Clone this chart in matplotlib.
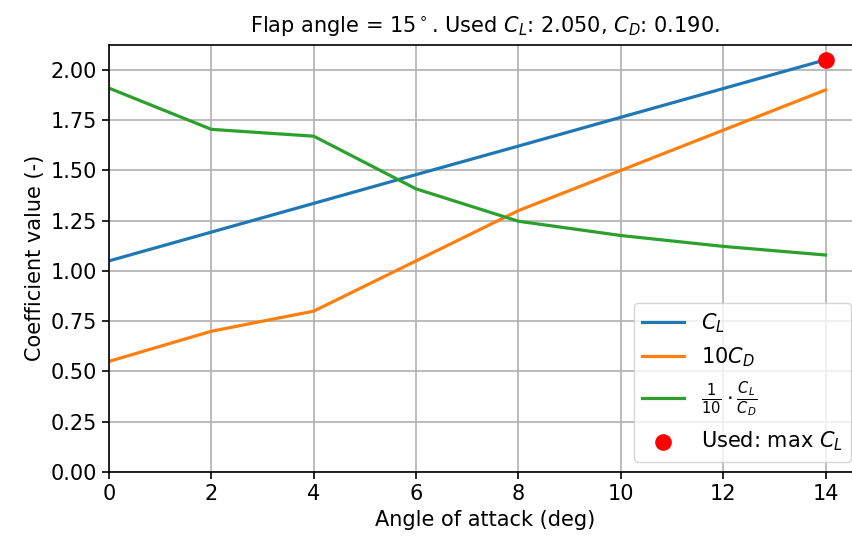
import matplotlib
matplotlib.use("Agg")
import matplotlib.pyplot as plt

# Polaire du profil avec volet braque a 15 deg
angles = [0, 2, 4, 6, 8, 10, 12, 14]
cl = [1.050, 1.193, 1.336, 1.479, 1.621, 1.764, 1.907, 2.050]
cd_x10 = [0.55, 0.70, 0.80, 1.05, 1.30, 1.50, 1.70, 1.90]
finesse_sur_10 = [1.909, 1.704, 1.670, 1.408, 1.247, 1.176, 1.122, 1.079]

angle_volet = 15
alpha_retenu = 14
cl_retenu = 2.050
cd_retenu = 0.190

plt.rcParams["font.size"] = 15
plt.rcParams["axes.linewidth"] = 1.2

fig = plt.figure(figsize=(8.52, 5.44), dpi=100)
ax = fig.add_axes([0.128, 0.1324, 0.883, 0.7854])

lw = 2.3
ax.plot(angles, cl, color="#1f77b4", linewidth=lw, label=r"$C_L$")
ax.plot(angles, cd_x10, color="#ff7f0e", linewidth=lw, label=r"$10C_D$")
ax.plot(angles, finesse_sur_10, color="#2ca02c", linewidth=lw,
        label=r"$\frac{1}{10}\cdot\frac{C_L}{C_D}$")
ax.scatter([alpha_retenu], [cl_retenu], color="red", s=120, zorder=3,
           label=r"Used: max $C_L$")

ax.set_xlim(0, 14.7)
ax.set_ylim(0, 2.125)
ax.set_xticks([0, 2, 4, 6, 8, 10, 12, 14])
ax.set_yticks([0, 0.25, 0.5, 0.75, 1.0, 1.25, 1.5, 1.75, 2.0])
ax.set_yticklabels(["0.00", "0.25", "0.50", "0.75", "1.00", "1.25", "1.50", "1.75", "2.00"])
ax.tick_params(width=1.2, length=5.25)
ax.grid(True, color="#b0b0b0", linewidth=1.2)
# le bord droit du cadre tombe hors de l'image
ax.spines["right"].set_visible(False)

ax.set_xlabel("Angle of attack (deg)")
ax.set_ylabel("Coefficient value (-)")
ax.set_title(r"Flap angle = %d$^\circ$. Used $C_L$: %.3f, $C_D$: %.3f."
             % (angle_volet, cl_retenu, cd_retenu), fontsize=15, pad=9)
ax.legend(loc="lower right", fontsize=15)

fig.savefig("out.png", dpi=100)
